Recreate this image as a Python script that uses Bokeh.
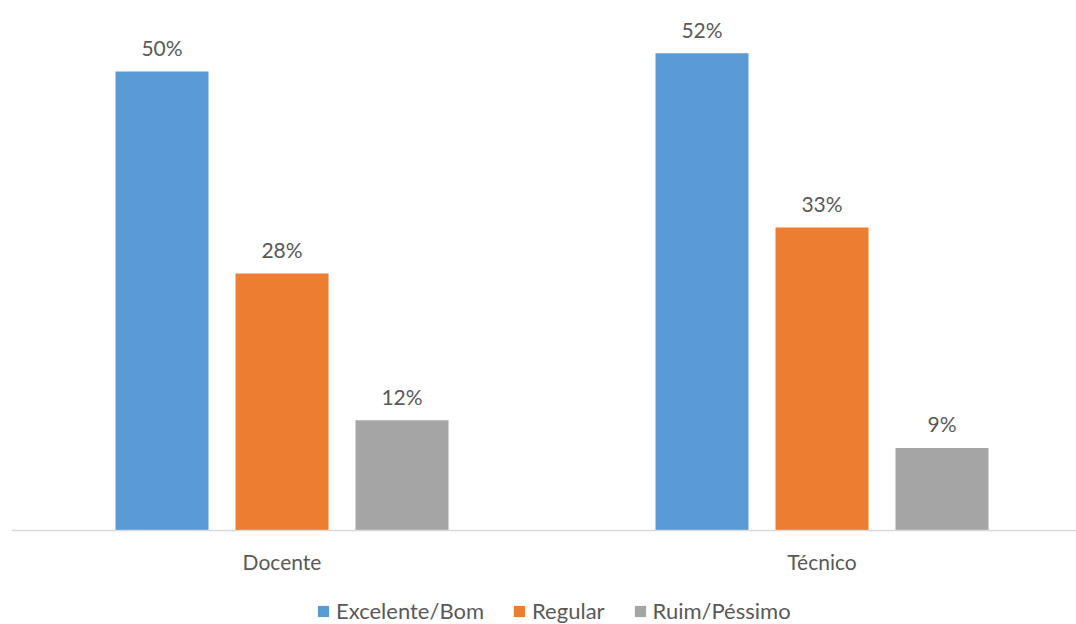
from bokeh.plotting import figure
from bokeh.models import ColumnDataSource, Range1d, FixedTicker, Legend, LegendItem, LabelSet
from bokeh.transform import dodge
from bokeh.core.properties import value
from bokeh.embed import file_html
from bokeh.resources import INLINE

categories = ["Docente", "Técnico"]
series_names = ["Excelente/Bom", "Regular", "Ruim/Péssimo"]
excelente_bom = [50, 52]
regular = [28, 33]
ruim_pessimo = [12, 9]
colors = ["#5B9BD5", "#ED7D31", "#A5A5A5"]

FONT = "Lato"
TXT = "#595959"

W, H = 1076, 624
frame_left = 11
base_px = 530          # baseline from top
px_per_cat = 540.0
first_center_px = 281.5
px_per_pct = 9.18

x_idx = list(range(len(categories)))
src = ColumnDataSource(dict(
    x=x_idx,
    cat=categories,
    s0=excelente_bom, s1=regular, s2=ruim_pessimo,
    l0=[f"{v}%" for v in excelente_bom],
    l1=[f"{v}%" for v in regular],
    l2=[f"{v}%" for v in ruim_pessimo],
))

x_start = -(first_center_px - frame_left) / px_per_cat
x_end = (W - first_center_px) / px_per_cat

p = figure(width=W, height=H,
           output_backend="svg", toolbar_location=None,
           x_range=Range1d(x_start, x_end),
           y_range=Range1d(-(H - base_px) / px_per_pct, base_px / px_per_pct),
           min_border_left=frame_left, min_border_right=0, min_border_top=0,
           min_border_bottom=0)
p.outline_line_color = None
p.grid.visible = False
p.yaxis.visible = False
p.background_fill_color = "white"
p.border_fill_color = "white"

offs = [-120 / px_per_cat, 0, 120 / px_per_cat]
bw = 93 / px_per_cat
renderers = []
for i, (name, col) in enumerate(zip(series_names, colors)):
    r = p.vbar(x=dodge("x", offs[i], range=p.x_range), top=f"s{i}", bottom=0, width=bw,
               source=src, fill_color=col, line_color=None)
    renderers.append(r)
    lab = LabelSet(x=dodge("x", offs[i], range=p.x_range), y=f"s{i}", text=f"l{i}",
                   source=src, text_align="center", text_baseline="middle",
                   y_offset=24, text_font=value(FONT), text_font_size=value("21px"),
                   text_color=value(TXT))
    p.add_layout(lab)

ax = p.xaxis[0]
ax.fixed_location = 0
ax.ticker = FixedTicker(ticks=x_idx)
ax.major_label_overrides = {i: c for i, c in zip(x_idx, categories)}
ax.major_tick_line_color = None
ax.minor_tick_line_color = None
ax.axis_line_color = "#D9D9D9"
ax.axis_line_width = 1.5
ax.major_label_standoff = 12
ax.major_label_text_font = FONT
ax.major_label_text_font_size = "21px"
ax.major_label_text_color = TXT

legend = Legend(items=[LegendItem(label=n, renderers=[r]) for n, r in zip(series_names, renderers)],
                orientation="horizontal", location=(316 - frame_left, 0),
                glyph_width=14, glyph_height=14, label_standoff=6, spacing=28,
                label_text_font=FONT, label_text_font_size="22px", label_text_color=TXT,
                border_line_color=None, background_fill_alpha=0, padding=0, margin=0)
p.add_layout(legend, "center")

open("out.html", "w").write(file_html(p, INLINE))
